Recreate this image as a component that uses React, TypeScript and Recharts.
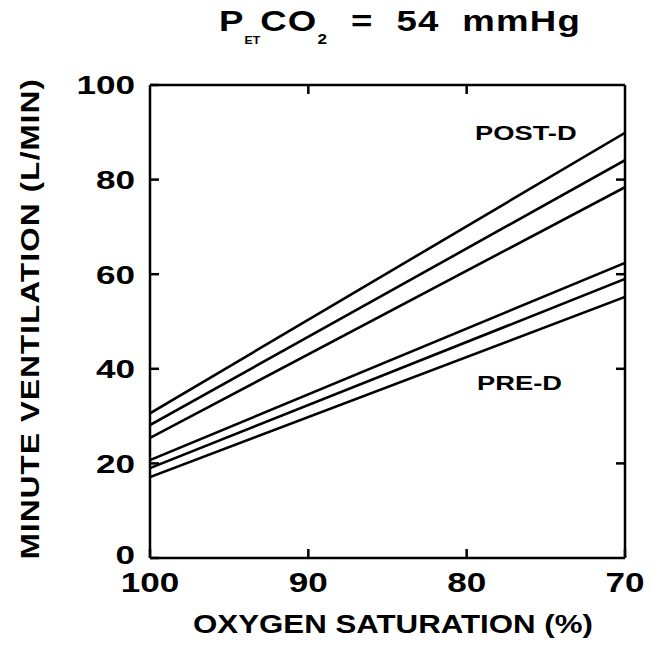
import { LineChart, Line, XAxis, YAxis, ReferenceLine } from 'recharts';

// oxygen saturation (%) at the two ends of each regression line
const saturation = [100, 70];

// minute ventilation (L/min), post-D lines
const postD1 = [30.6, 89.9];
const postD2 = [28.1, 84.1];
const postD3 = [25.4, 78.4];

// minute ventilation (L/min), pre-D lines
const preD1 = [20.7, 62.4];
const preD2 = [19.0, 59.0];
const preD3 = [17.1, 55.2];

const xTicks = [100, 90, 80, 70];
const yTicks = [0, 20, 40, 60, 80, 100];

const seriesKeys = ['post1', 'post2', 'post3', 'pre1', 'pre2', 'pre3'];

const data = saturation.map((s, i) => ({
  x: s,
  post1: postD1[i],
  post2: postD2[i],
  post3: postD3[i],
  pre1: preD1[i],
  pre2: preD2[i],
  pre3: preD3[i],
}));

const font = '"Liberation Sans", Arial, Helvetica, sans-serif';
const axisStroke = { stroke: '#000', strokeWidth: 2.5 };

// inward tick length on the top/right frame, in data units (about 9px)
const topTickLen = 1.9;
const rightTickLen = 0.57;

// the original uses a wide bold face, so stretch the tick text sideways
function XTick(props: any) {
  const { x, y, payload } = props;
  return (
    <g transform={`translate(${x},${y}) scale(1.3,1)`}>
      <text x={0} y={0} dy="0.72em" textAnchor="middle" fill="#000" fontSize={27} fontWeight="bold" fontFamily={font}>
        {payload.value}
      </text>
    </g>
  );
}

function YTick(props: any) {
  const { x, y, payload } = props;
  // the 0 sits a touch above the corner in the original
  const shift = payload.value === 0 ? -3 : 0;
  return (
    <g transform={`translate(${x},${y + shift}) scale(1.35,1)`}>
      <text x={0} y={0} dy="0.36em" textAnchor="end" fill="#000" fontSize={26} fontWeight="bold" fontFamily={font}>
        {payload.value}
      </text>
    </g>
  );
}

const W = 660;
const H = 661;

export default function App() {
  return (
    <div style={{ position: 'absolute', left: 0, top: 0, width: W, height: H, background: '#fff', fontFamily: font, color: '#000' }}>
      <div
        style={{
          position: 'absolute',
          left: 0,
          width: 800,
          top: 4,
          textAlign: 'center',
          fontSize: 30,
          fontWeight: 'bold',
          whiteSpace: 'pre',
          letterSpacing: 1,
          transform: 'scaleX(1.22)',
        }}
      >
        P<span style={{ fontSize: 10, verticalAlign: -13, letterSpacing: 0 }}>ET</span>CO
        <span style={{ fontSize: 14, verticalAlign: -13 }}>2</span>
        {'  =  54  mmHg'}
      </div>

      <div style={{ position: 'absolute', left: 0, top: 0 }}>
        <LineChart width={W} height={H} data={data} margin={{ top: 85, right: 35, bottom: 43, left: 50 }}>
          <XAxis
            dataKey="x"
            type="number"
            domain={[70, 100]}
            reversed
            ticks={xTicks}
            allowDataOverflow
            height={60}
            tickSize={-9}
            tickMargin={24}
            axisLine={axisStroke}
            tickLine={axisStroke}
            tick={<XTick />}
            interval={0}
          />
          <YAxis
            type="number"
            domain={[0, 100]}
            ticks={yTicks}
            allowDataOverflow
            width={100}
            tickSize={-9}
            tickMargin={24}
            axisLine={axisStroke}
            tickLine={axisStroke}
            tick={<YTick />}
            interval={0}
          />

          {/* top and right sides of the frame, with inward ticks */}
          <ReferenceLine y={100} stroke="#000" strokeWidth={2.5} ifOverflow="visible" />
          <ReferenceLine x={70} stroke="#000" strokeWidth={2.5} ifOverflow="visible" />
          {xTicks.slice(1, -1).map((t) => (
            <ReferenceLine
              key={`tx${t}`}
              segment={[{ x: t, y: 100 }, { x: t, y: 100 - topTickLen }]}
              stroke="#000"
              strokeWidth={2.5}
              ifOverflow="visible"
            />
          ))}
          {yTicks.slice(1, -1).map((t) => (
            <ReferenceLine
              key={`ty${t}`}
              segment={[{ x: 70, y: t }, { x: 70 + rightTickLen, y: t }]}
              stroke="#000"
              strokeWidth={2.5}
              ifOverflow="visible"
            />
          ))}

          {seriesKeys.map((k) => (
            <Line
              key={k}
              type="linear"
              dataKey={k}
              stroke="#000"
              strokeWidth={2.6}
              dot={false}
              isAnimationActive={false}
            />
          ))}
        </LineChart>
      </div>

      <div style={{ position: 'absolute', left: 475, top: 121, fontSize: 21, fontWeight: 'bold', transform: 'scaleX(1.3)', transformOrigin: 'left center' }}>
        POST-D
      </div>
      <div style={{ position: 'absolute', left: 477, top: 371, fontSize: 21, fontWeight: 'bold', transform: 'scaleX(1.3)', transformOrigin: 'left center' }}>
        PRE-D
      </div>

      <div
        style={{
          position: 'absolute',
          left: 0,
          width: 786,
          top: 610,
          textAlign: 'center',
          fontSize: 25,
          fontWeight: 'bold',
          transform: 'scaleX(1.25)',
          whiteSpace: 'nowrap',
        }}
      >
        OXYGEN SATURATION (%)
      </div>
      <div
        style={{
          position: 'absolute',
          left: 30,
          top: 319,
          width: 600,
          marginLeft: -300,
          marginTop: -15,
          textAlign: 'center',
          fontSize: 25,
          fontWeight: 'bold',
          letterSpacing: 1,
          transform: 'rotate(-90deg) scaleX(1.25)',
          whiteSpace: 'nowrap',
        }}
      >
        MINUTE VENTILATION (L/MIN)
      </div>
    </div>
  );
}
